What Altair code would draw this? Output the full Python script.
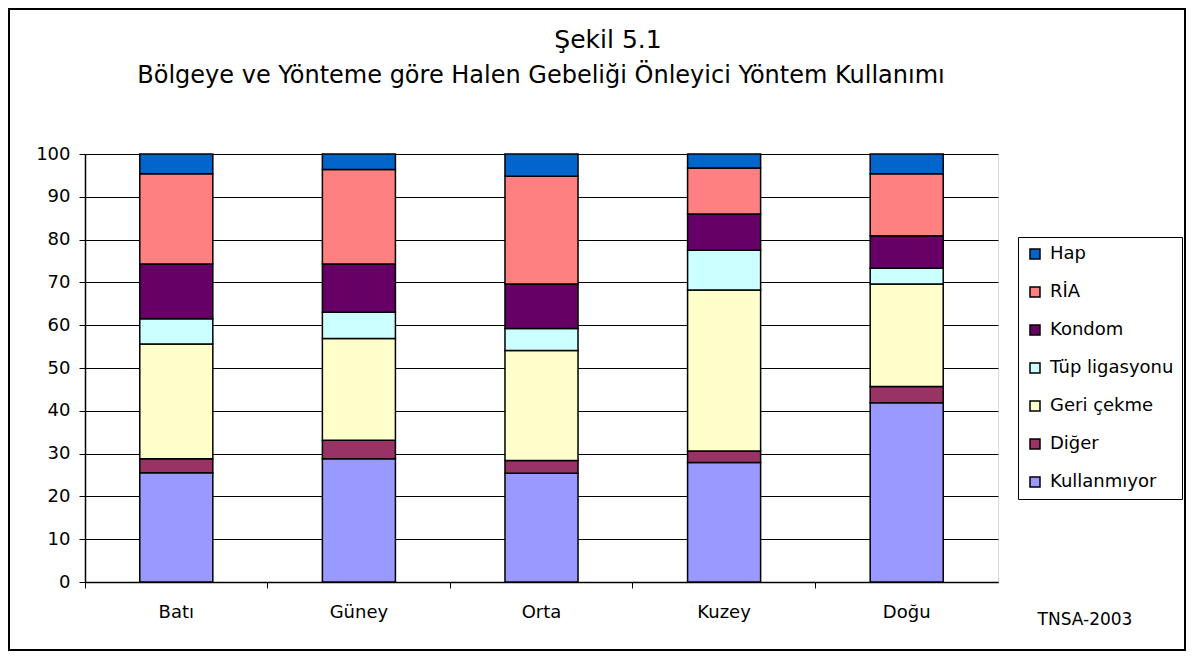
import altair as alt
import pandas as pd

regions = ["Batı", "Güney", "Orta", "Kuzey", "Doğu"]
methods_legend = ["Hap", "RİA", "Kondom", "Tüp ligasyonu", "Geri çekme", "Diğer", "Kullanmıyor"]
colors = ["#0066CC", "#FF8080", "#660066", "#CCFFFF", "#FFFFCC", "#993366", "#9999FF"]
title_lines = ["Şekil 5.1", "Bölgeye ve Yönteme göre Halen Gebeliği Önleyici Yöntem Kullanımı"]
source_note = ["TNSA-2003"]

# values per region (bottom to top stacking order: Kullanmıyor ... Hap)
kullanmiyor = [25.5, 28.8, 25.4, 27.9, 41.9]
diger = [3.3, 4.3, 3.0, 2.7, 3.8]
geri_cekme = [26.8, 23.8, 25.7, 37.6, 23.9]
tup = [5.9, 6.1, 5.1, 9.3, 3.7]
kondom = [12.8, 11.3, 10.4, 8.5, 7.6]
ria = [21.1, 22.1, 25.2, 10.7, 14.5]
hap = [4.6, 3.6, 5.2, 3.3, 4.6]

stack_series = [
    ("Kullanmıyor", kullanmiyor),
    ("Diğer", diger),
    ("Geri çekme", geri_cekme),
    ("Tüp ligasyonu", tup),
    ("Kondom", kondom),
    ("RİA", ria),
    ("Hap", hap),
]

rows = []
for order, (name, vals) in enumerate(stack_series):
    for r, v in zip(regions, vals):
        rows.append({"Bölge": r, "Yöntem": name, "Değer": v, "sira": order})
df = pd.DataFrame(rows)

FONT = "DejaVu Sans"
FS = 18
W, H = 913, 428

bars = alt.Chart(df).mark_bar(
    width=alt.RelativeBandSize(0.4), stroke="black", strokeWidth=1.5
).encode(
    x=alt.X("Bölge:N", sort=regions, title=None,
            scale=alt.Scale(paddingInner=0, paddingOuter=0),
            axis=alt.Axis(labelAngle=0, bandPosition=0, labelFontSize=FS, labelFont=FONT,
                          labelColor="black", tickColor="black", tickSize=6,
                          labelPadding=15, domainColor="black", domainWidth=1.5, grid=False)),
    y=alt.Y("Değer:Q", stack="zero", title=None,
            scale=alt.Scale(domain=[0, 100], nice=False),
            axis=alt.Axis(values=list(range(0, 101, 10)), labelFontSize=FS, labelFont=FONT,
                          labelColor="black", tickColor="black", tickSize=6, labelPadding=9,
                          domainColor="black", domainWidth=1.5,
                          gridColor="black", gridWidth=1, gridOpacity=1)),
    color=alt.Color("Yöntem:N", title=None,
                    scale=alt.Scale(domain=methods_legend, range=colors),
                    legend=alt.Legend(orient="none", legendX=933, legendY=83,
                                      symbolType="square", symbolSize=100,
                                      symbolStrokeColor="black", symbolStrokeWidth=1.5,
                                      labelFontSize=18, labelFont=FONT, labelColor="black",
                                      labelOffset=6, rowPadding=20, padding=8,
                                      strokeColor="black", fillColor="white")),
    order=alt.Order("sira:Q", sort="ascending"),
)

source = alt.Chart(pd.DataFrame({"t": source_note})).mark_text(
    font=FONT, fontSize=17, color="black"
).encode(x=alt.value(1000), y=alt.value(466), text="t:N")

title_df = pd.DataFrame({"t": title_lines, "i": [0, 1]})
title1 = alt.Chart(title_df[title_df.i == 0]).mark_text(
    font=FONT, fontSize=25, color="black"
).encode(x=alt.value(523), y=alt.value(-114), text="t:N")
title2 = alt.Chart(title_df[title_df.i == 1]).mark_text(
    font=FONT, fontSize=24, color="black"
).encode(x=alt.value(456), y=alt.value(-78), text="t:N")

frame = alt.Chart(pd.DataFrame({"a": [0]})).mark_rect(
    fill=None, stroke="black", strokeWidth=2
).encode(x=alt.value(-76), x2=alt.value(1100), y=alt.value(-145), y2=alt.value(496))

chart = alt.layer(frame, bars, source, title1, title2).properties(
    width=W, height=H,
    autosize=alt.AutoSizeParams(type="none"),
    padding={"left": 77, "top": 146, "right": 188, "bottom": 69},
).configure_view(stroke="#555555", strokeWidth=1.5).configure(background="white")

chart.save("out.html", embed_options={"renderer": "svg", "actions": False})
